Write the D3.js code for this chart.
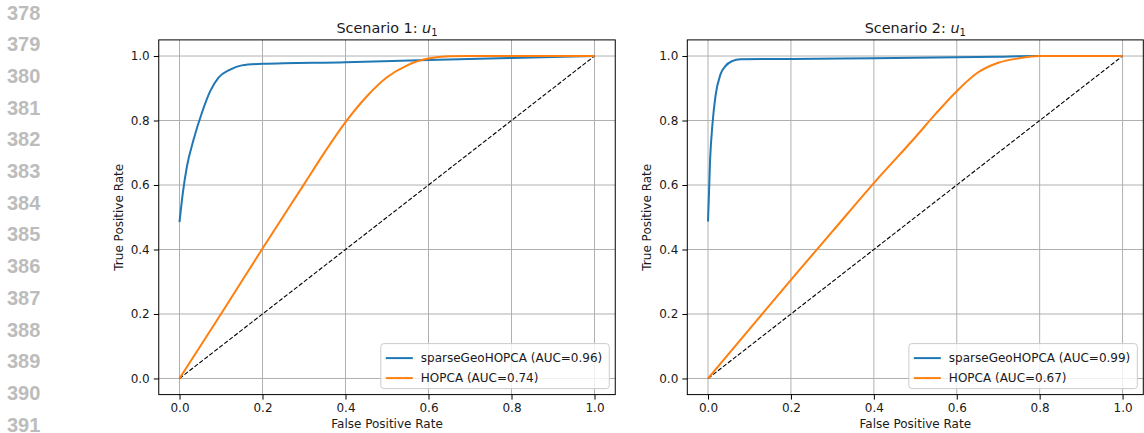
<!DOCTYPE html>
<html>
<head>
<meta charset="utf-8">
<script src="https://cdn.jsdelivr.net/npm/d3@7"></script>
<style>
  html, body { margin: 0; padding: 0; background: #fff; }
  svg { display: block; }
  text { font-family: "DejaVu Sans", sans-serif; fill: #1a1a1a; }
  .lineno { font-family: "Liberation Sans", Arial, sans-serif; font-weight: bold; fill: #bcbcbc; }
</style>
</head>
<body>
<svg id="chart" width="1144" height="433"></svg>
<script>
// Manuscript line numbers shown in the left margin
const lineNumbers = [378, 379, 380, 381, 382, 383, 384, 385, 386, 387, 388, 389, 390, 391];

// Axis ticks shared by both panels
const tickValues = [0.0, 0.2, 0.4, 0.6, 0.8, 1.0];

// Scenario 1 ROC curves
const s1SparseFpr = [0, 0.008, 0.018, 0.034, 0.054, 0.074, 0.094, 0.122, 0.15, 0.2, 0.4, 0.6, 0.8, 1.0];
const s1SparseTpr = [0.485, 0.575, 0.658, 0.741, 0.824, 0.891, 0.933, 0.958, 0.971, 0.976, 0.981, 0.988, 0.994, 1.0];
const s1HopcaFpr  = [0, 0.1, 0.2, 0.3, 0.35, 0.4, 0.45, 0.5, 0.55, 0.6, 0.65, 0.7, 0.8, 1.0];
const s1HopcaTpr  = [0, 0.2, 0.403, 0.602, 0.702, 0.795, 0.873, 0.934, 0.972, 0.992, 0.999, 1.0, 1.0, 1.0];

// Scenario 2 ROC curves
const s2SparseFpr = [0, 0.005, 0.011, 0.018, 0.03, 0.042, 0.058, 0.078, 0.2, 0.4, 0.6, 0.7, 0.78, 1.0];
const s2SparseTpr = [0.487, 0.679, 0.793, 0.876, 0.943, 0.969, 0.984, 0.99, 0.991, 0.993, 0.996, 0.998, 1.0, 1.0];
const s2HopcaFpr  = [0, 0.1, 0.2, 0.3, 0.4, 0.5, 0.55, 0.6, 0.65, 0.7, 0.75, 0.8, 1.0];
const s2HopcaTpr  = [0, 0.153, 0.306, 0.456, 0.606, 0.748, 0.822, 0.891, 0.948, 0.979, 0.993, 1.0, 1.0];

// Legend labels
const s1Labels = ["sparseGeoHOPCA (AUC=0.96)", "HOPCA (AUC=0.74)"];
const s2Labels = ["sparseGeoHOPCA (AUC=0.99)", "HOPCA (AUC=0.67)"];

const seriesColors = ["#1f77b4", "#ff7f0e"];

const zip = (xs, ys) => xs.map((x, i) => [x, ys[i]]);

const panels = [
  { title: "Scenario 1: ", left: 158.75, right: 615.25,
    curves: [zip(s1SparseFpr, s1SparseTpr), zip(s1HopcaFpr, s1HopcaTpr)], labels: s1Labels },
  { title: "Scenario 2: ", left: 687.3, right: 1143.3,
    curves: [zip(s2SparseFpr, s2SparseTpr), zip(s2HopcaFpr, s2HopcaTpr)], labels: s2Labels }
];

const svg = d3.select("#chart");
const plotTop = 39.9, plotBottom = 394.6;

// margin line numbers
svg.append("g").selectAll("text")
  .data(lineNumbers)
  .join("text")
  .attr("class", "lineno")
  .attr("x", 7)
  .attr("y", (d, i) => 19.5 + i * 31.7)
  .attr("font-size", 20)
  .text(d => d);

panels.forEach(p => {
  const x = d3.scaleLinear().domain([-0.05, 1.05]).range([p.left, p.right]);
  const y = d3.scaleLinear().domain([-0.05, 1.05]).range([plotBottom, plotTop]);
  const g = svg.append("g");

  // grid
  g.append("g").selectAll("line").data(tickValues).join("line")
    .attr("x1", d => x(d)).attr("x2", d => x(d))
    .attr("y1", plotTop).attr("y2", plotBottom)
    .attr("stroke", "#b0b0b0").attr("stroke-width", 1);
  g.append("g").selectAll("line").data(tickValues).join("line")
    .attr("y1", d => y(d)).attr("y2", d => y(d))
    .attr("x1", p.left).attr("x2", p.right)
    .attr("stroke", "#b0b0b0").attr("stroke-width", 1);

  // chance diagonal
  g.append("line")
    .attr("x1", x(0)).attr("y1", y(0)).attr("x2", x(1)).attr("y2", y(1))
    .attr("stroke", "#000").attr("stroke-width", 1.1)
    .attr("stroke-dasharray", "4.4,1.9");

  // ROC curves
  const line = d3.line().x(d => x(d[0])).y(d => y(d[1])).curve(d3.curveMonotoneX);
  p.curves.forEach((c, i) => {
    g.append("path").datum(c)
      .attr("d", line)
      .attr("fill", "none")
      .attr("stroke", seriesColors[i])
      .attr("stroke-width", 2)
      .attr("stroke-linejoin", "round")
      .attr("stroke-linecap", "butt");
  });

  // axes
  const xAxis = d3.axisBottom(x).tickValues(tickValues).tickFormat(d3.format(".1f"))
    .tickSize(5).tickPadding(4);
  const yAxis = d3.axisLeft(y).tickValues(tickValues).tickFormat(d3.format(".1f"))
    .tickSize(5).tickPadding(4);
  const gx = g.append("g").attr("transform", `translate(0,${plotBottom})`).call(xAxis);
  const gy = g.append("g").attr("transform", `translate(${p.left},0)`).call(yAxis);
  [gx, gy].forEach(a => {
    a.select(".domain").remove();
    a.selectAll(".tick line").attr("stroke", "#000").attr("stroke-width", 1);
    a.selectAll(".tick text").attr("font-size", 12).attr("fill", "#1a1a1a")
      .style("font-family", "DejaVu Sans, sans-serif");
  });

  // frame
  g.append("rect")
    .attr("x", p.left).attr("y", plotTop)
    .attr("width", p.right - p.left).attr("height", plotBottom - plotTop)
    .attr("fill", "none").attr("stroke", "#000").attr("stroke-width", 1);

  // axis labels
  g.append("text")
    .attr("x", (p.left + p.right) / 2).attr("y", 428)
    .attr("text-anchor", "middle").attr("font-size", 12)
    .text("False Positive Rate");
  g.append("text")
    .attr("transform", `translate(${p.left - 36},${(plotTop + plotBottom) / 2}) rotate(-90)`)
    .attr("text-anchor", "middle").attr("font-size", 12)
    .text("True Positive Rate");

  // title with math-style u subscript 1
  const t = g.append("text")
    .attr("x", (p.left + p.right) / 2).attr("y", 33)
    .attr("text-anchor", "middle").attr("font-size", 14.4);
  t.append("tspan").text(p.title);
  t.append("tspan").attr("font-style", "italic").text("u");
  t.append("tspan").attr("font-size", 10).attr("dy", 3).text("1");

  // legend
  const lg = g.append("g");
  const box = lg.append("rect");
  const items = lg.selectAll("g").data(p.labels).join("g");
  const texts = items.append("text").attr("font-size", 12).text(d => d);
  const maxW = d3.max(texts.nodes(), n => n.getComputedTextLength());
  const bw = 40 + maxW + 7, bh = 45;
  const bx = p.right - 6 - bw, by = plotBottom - 6 - bh;
  box.attr("x", bx).attr("y", by).attr("width", bw).attr("height", bh)
    .attr("rx", 3).attr("fill", "#fff").attr("fill-opacity", 0.8)
    .attr("stroke", "#cccccc").attr("stroke-width", 1);
  items.each(function(d, i) {
    const cy = by + 14.5 + i * 20;
    const it = d3.select(this);
    it.insert("line", "text")
      .attr("x1", bx + 5).attr("x2", bx + 32).attr("y1", cy).attr("y2", cy)
      .attr("stroke", seriesColors[i]).attr("stroke-width", 2);
    it.select("text").attr("x", bx + 40).attr("y", cy + 4.3);
  });
});
</script>
</body>
</html>
